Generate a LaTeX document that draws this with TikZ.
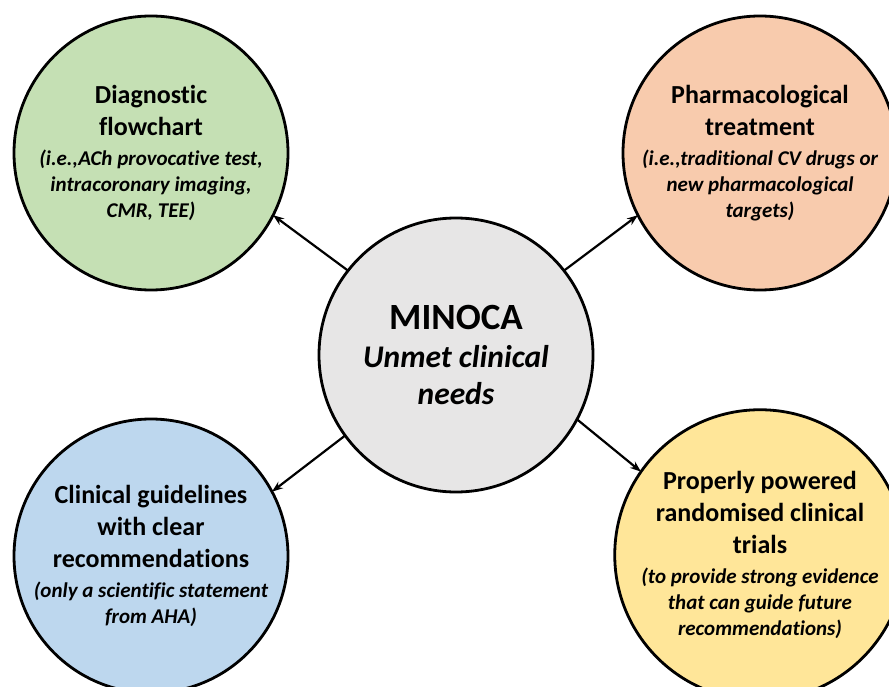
\documentclass[tikz,border=0pt]{standalone}
\usepackage{fontspec}
\setmainfont{Carlito}[Ligatures=NoCommon]
\usetikzlibrary{positioning,arrows.meta}

\definecolor{diagGreen}{HTML}{C5E0B4}
\definecolor{pharmOrange}{HTML}{F8CBAD}
\definecolor{guideBlue}{HTML}{BDD7EE}
\definecolor{trialYellow}{HTML}{FFE699}
\definecolor{minocaGrey}{HTML}{E7E6E6}

\newcommand{\neednote}[1]{{\fontsize{21}{26}\selectfont\itshape #1}}

\begin{document}
\begin{tikzpicture}[x=1pt, y=-1pt,
  need/.style={circle, draw=black, line width=2.8pt, minimum size=274pt, inner sep=0pt, outer sep=0pt, align=center, font=\fontsize{26}{32}\selectfont\bfseries},
  link/.style={-{Stealth[length=11pt, width=8pt]}, line width=2.2pt}]
  \useasboundingbox (0,0) rectangle (889,687);

  \node[need, fill=minocaGrey] (minoca) at (456,355) {{\fontsize{37}{40}\selectfont MINOCA}\\[6pt]{\fontsize{31.5}{38}\selectfont\itshape Unmet clinical}\\[5pt]{\fontsize{31.5}{38}\selectfont\itshape needs}};
  \node[need, fill=diagGreen, on grid, above left=202pt and 305pt of minoca] (diag) {Diagnostic\\flowchart\\[-2pt]\neednote{(i.e.,ACh provocative test,}\\[-6pt]\neednote{intracoronary imaging,}\\[-6pt]\neednote{CMR, TEE)}};
  \node[need, fill=pharmOrange, on grid, above right=202pt and 304pt of minoca] (pharm) {Pharmacological\\treatment\\[-2pt]\neednote{(i.e.,traditional CV drugs or}\\[-6pt]\neednote{new pharmacological}\\[-6pt]\neednote{targets)}};
  \node[need, fill=guideBlue, on grid, below left=201pt and 305pt of minoca] (guide) {Clinical guidelines\\with clear\\recommendations\\[-2pt]\neednote{(only a scientific statement}\\[-6pt]\neednote{from AHA)}};
  \node[need, fill=trialYellow, on grid, below right=200pt and 304pt of minoca] (trial) {Properly powered\\randomised clinical\\trials\\[-2pt]\neednote{(to provide strong evidence}\\[-6pt]\neednote{that can guide future}\\[-6pt]\neednote{recommendations)}};

  \draw[link] (minoca.142) -- (diag.-27);
  \draw[link] (minoca.38) -- (pharm.-153);
  \draw[link] (minoca.216) -- (guide.28);
  \draw[link] (minoca.-28) -- (trial.145);

\end{tikzpicture}
\end{document}
